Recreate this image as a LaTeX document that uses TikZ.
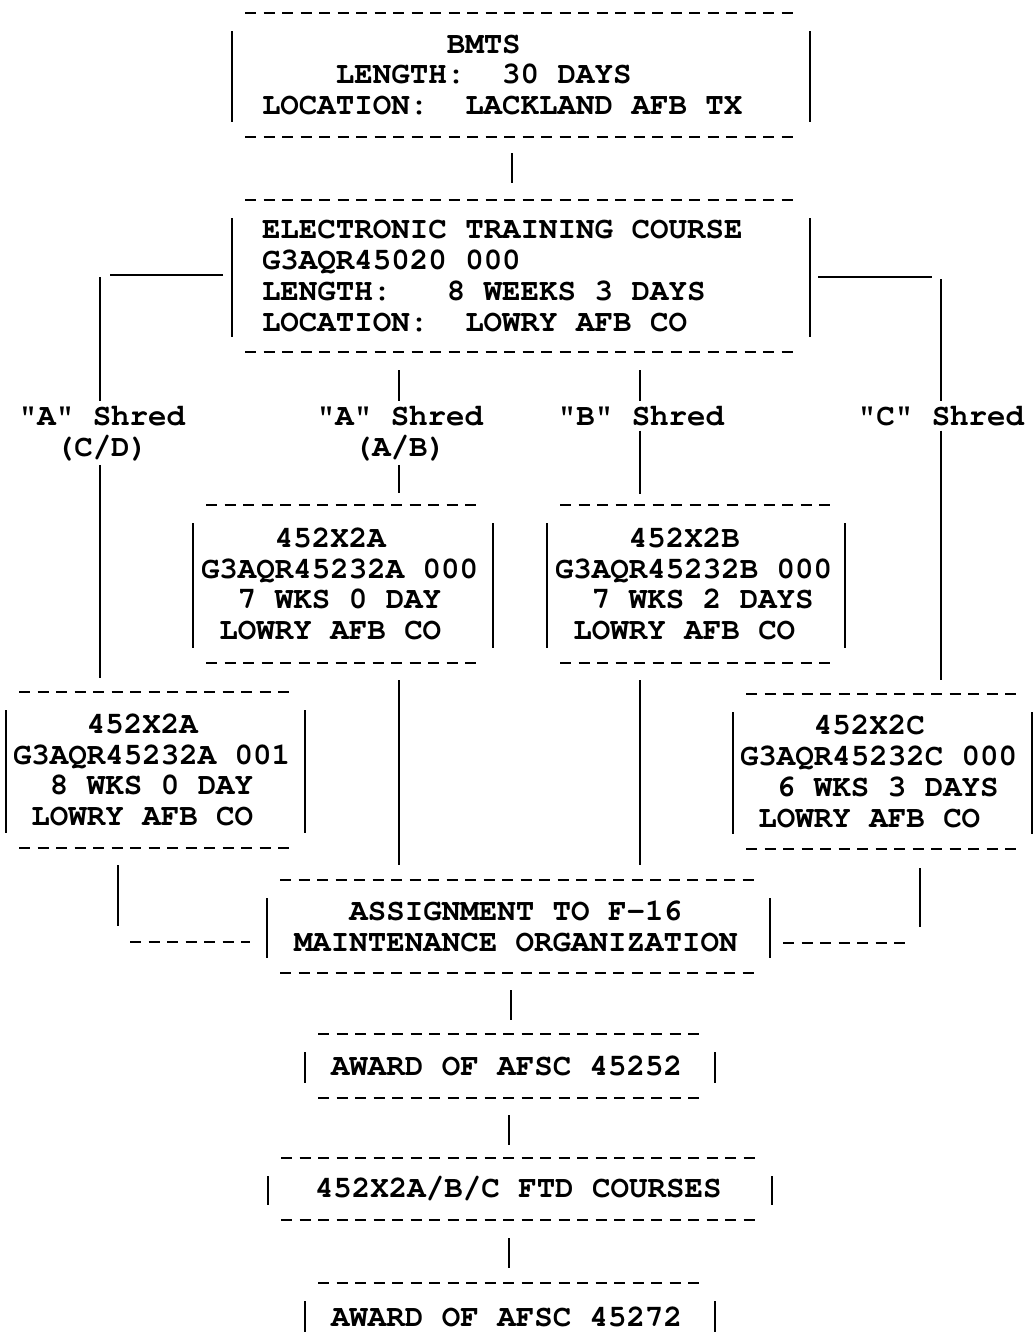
\documentclass[tikz,border=0pt]{standalone}
\usepackage[T1,TU]{fontenc}
\usetikzlibrary{calc}
\newlength\cw \setlength\cw{18.48pt}
\newcommand\ind[1]{\hspace*{#1\cw}}
\newcommand\tfont{\fontencoding{T1}\fontfamily{pcr}\fontseries{b}\fontshape{n}\fontsize{30.8}{30.8}\selectfont}
\tikzset{
  ln/.style={line width=2.6pt},
  dsh/.style={line width=2.6pt, dash pattern=on 11pt off 7.5pt},
  tbox/.style={draw=none, inner ysep=0pt, outer sep=0pt, anchor=north west, align=left, font=\tfont,
    execute at begin node={\spaceskip=\cw\xspaceskip=\cw\relax}},
  lbl/.style={inner xsep=2pt, inner ysep=5pt, outer sep=0pt, font=\tfont, align=center}
}
\newcommand\tfr[1]{%
  \draw[dsh] ($(#1.north west)+(13,0)$) -- ($(#1.north east)+(-13,0)$);
  \draw[dsh] ($(#1.south west)+(13,0)$) -- ($(#1.south east)+(-13,0)$);
  \draw[ln] ($(#1.north west)+(0,18)$) -- ($(#1.south west)+(0,-15)$);
  \draw[ln] ($(#1.north east)+(0,18)$) -- ($(#1.south east)+(0,-15)$);}
\begin{document}
\begin{tikzpicture}[x=1pt,y=-1pt]
\useasboundingbox (0,0) rectangle (1033,1344);
% boxes
\node[tbox, minimum width=578pt, minimum height=124pt, inner xsep=30pt, text width=518pt] (bmts) at (232,13)
 {\ind{10}BMTS\\\ind{4}LENGTH:~~30 DAYS\\LOCATION:~~LACKLAND AFB TX};
\node[tbox, minimum width=578pt, minimum height=152pt, inner xsep=30pt, text width=518pt] (etc) at (232,200)
 {ELECTRONIC TRAINING COURSE\\G3AQR45020 000\\LENGTH:~~~8 WEEKS 3 DAYS\\LOCATION:~~LOWRY AFB CO};
\node[tbox, minimum width=300pt, minimum height=158pt, inner xsep=8pt, text width=284pt] (ma) at (193,505)
 {\ind{4}452X2A\\G3AQR45232A 000\\\ind{2}7 WKS 0 DAY\\\ind{1}LOWRY AFB CO};
\node[tbox, minimum width=298pt, minimum height=158pt, inner xsep=8pt, text width=282pt] (mb) at (547,505)
 {\ind{4}452X2B\\G3AQR45232B 000\\\ind{2}7 WKS 2 DAYS\\\ind{1}LOWRY AFB CO};
\node[tbox, minimum width=299pt, minimum height=156pt, inner xsep=7pt, text width=285pt] (la) at (6,692)
 {\ind{4}452X2A\\G3AQR45232A 001\\\ind{2}8 WKS 0 DAY\\\ind{1}LOWRY AFB CO};
\node[tbox, minimum width=299pt, minimum height=155pt, inner xsep=7pt, text width=285pt] (rc) at (733,694)
 {\ind{4}452X2C\\G3AQR45232C 000\\\ind{2}6 WKS 3 DAYS\\\ind{1}LOWRY AFB CO};
\node[tbox, minimum width=503pt, minimum height=93pt, inner xsep=27pt, text width=449pt] (asg) at (267,880)
 {\ind{3}ASSIGNMENT TO F-16\\MAINTENANCE ORGANIZATION};
\node[tbox, minimum width=410pt, minimum height=64pt, inner xsep=26pt, text width=358pt] (aw1) at (305,1034)
 {AWARD OF AFSC 45252};
\node[tbox, minimum width=504pt, minimum height=62pt, inner xsep=47pt, text width=410pt] (ftd) at (268,1158)
 {452X2A/B/C FTD COURSES};
\node[tbox, minimum width=410pt, minimum height=68pt, inner xsep=26pt, text width=358pt] (aw2) at (305,1283)
 {AWARD OF AFSC 45272};
\tfr{bmts}\tfr{etc}\tfr{ma}\tfr{mb}\tfr{la}\tfr{rc}\tfr{asg}\tfr{aw1}\tfr{ftd}
\draw[dsh] ($(aw2.north west)+(13,0)$) -- ($(aw2.north east)+(-13,0)$);
\draw[ln] ($(aw2.north west)+(0,18)$) -- ++(0,31);
\draw[ln] ($(aw2.north east)+(0,18)$) -- ++(0,31);
% labels
\node[lbl] (lCD) at (102,433) {"A" Shred\\(C/D)};
\node[lbl] (lAB) at (400,433) {"A" Shred\\(A/B)};
\node[lbl, anchor=base] (lB) at (641,425) {"B" Shred};
\node[lbl, anchor=base] (lC) at (941,425) {"C" Shred};
% coordinates
\coordinate (jl) at (100,275);
\coordinate (jl2) at (118,942);
\coordinate (jr) at (941,277);
\coordinate (jr2) at (920,943);
\coordinate (xa) at (399,0);
\coordinate (xb) at (640,0);
% main spine
\draw[ln] ($(bmts.south)+(-9,16)$) -- ($(etc.north)+(-9,-17)$);
\draw[ln] ($(asg.south -| aw1.north)+(1,17)$) -- ($(aw1.north)+(1,-14)$);
\draw[ln] ($(aw1.south)+(-1,17)$) -- ($(ftd.north -| aw1.south)+(-1,-13)$);
\draw[ln] ($(ftd.south -| aw1.south)+(-1,18)$) -- ($(aw2.north)+(-1,-15)$);
% left branch
\draw[ln] ($(etc.west)+(-9,-1)$) -- ($(jl)+(10,0)$);
\draw[ln] ($(jl)+(0,2)$) -- (lCD.north -| jl);
\draw[ln] (lCD.south -| jl) -- ($(la.north -| jl)+(0,-14)$);
\draw[ln] ($(la.south -| jl2)+(0,17)$) -- ($(jl2)+(0,-16)$);
\draw[dsh] ($(jl2)+(12,0)$) -- ($(asg.west |- jl2)+(-17,0)$);
% right branch
\draw[ln] ($(etc.east)+(8,1)$) -- ($(jr)+(-9,0)$);
\draw[ln] ($(jr)+(0,2)$) -- (lC.north -| jr);
\draw[ln] (lC.south -| jr) -- ($(rc.north -| jr)+(0,-14)$);
\draw[ln] ($(rc.south -| jr2)+(0,19)$) -- ($(jr2)+(0,-16)$);
\draw[dsh] ($(asg.east |- jr2)+(13,0)$) -- ($(jr2)+(-12,0)$);
% middle branches
\draw[ln] ($(etc.south -| xa)+(0,18)$) -- (lAB.north -| xa);
\draw[ln] (lAB.south -| xa) -- ($(ma.north -| xa)+(0,-12)$);
\draw[ln] ($(ma.south -| xa)+(0,17)$) -- ($(asg.north -| xa)+(0,-15)$);
\draw[ln] ($(etc.south -| xb)+(0,18)$) -- (lB.north -| xb);
\draw[ln] (lB.south -| xb) -- ($(mb.north -| xb)+(0,-11)$);
\draw[ln] ($(mb.south -| xb)+(0,17)$) -- ($(asg.north -| xb)+(0,-15)$);
\end{tikzpicture}
\end{document}
